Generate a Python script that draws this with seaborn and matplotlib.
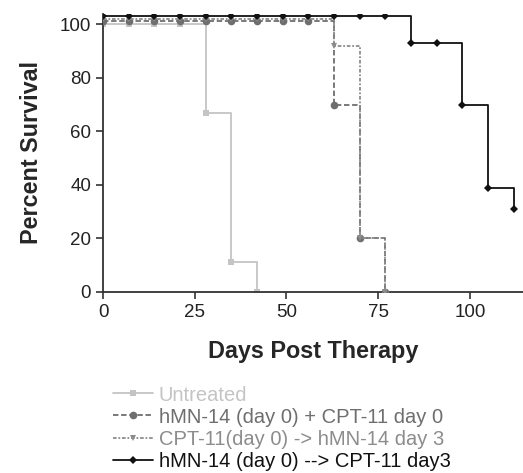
import numpy as np
import pandas as pd
import matplotlib
matplotlib.use("Agg")
import matplotlib.pyplot as plt
import seaborn as sns

# === Data (weekly readings) ===
labels = [
    "Untreated",
    "hMN-14 (day 0) + CPT-11 day 0",
    "CPT-11(day 0) -> hMN-14 day 3",
    "hMN-14 (day 0) --> CPT-11 day3",
]
days_untreated = [0, 7, 14, 21, 28, 35, 42]
surv_untreated = [100, 100, 100, 100, 67, 11, 0]

days_combo = [0, 7, 14, 21, 28, 35, 42, 49, 56, 63, 70, 77]
surv_combo = [100, 100, 100, 100, 100, 100, 100, 100, 100, 70, 20, 0]

days_cpt_first = [0, 7, 14, 21, 28, 35, 42, 49, 56, 63, 70, 77]
surv_cpt_first = [100, 100, 100, 100, 100, 100, 100, 100, 100, 92, 20, 0]

days_hmn_first = [0, 7, 14, 21, 28, 35, 42, 49, 56, 63, 70, 77, 84, 91, 98, 105, 112]
surv_hmn_first = [100, 100, 100, 100, 100, 100, 100, 100, 100, 100, 100, 100, 93, 93, 70, 39, 31]

# Prism-style nudge of the 100% plateau so overlapping curves stay visible
nudges = [0, 1.3, 2, 3]
colors = ["#c4c4c4", "#6e6e6e", "#8c8c8c", "#111111"]
styles = ["-", (0, (3, 1.5)), (0, (2, 1, 1, 1)), "-"]
markers = ["s", "o", "v", "D"]
msizes = [5, 5.5, 5, 4]

series = [
    (days_untreated, surv_untreated),
    (days_combo, surv_combo),
    (days_cpt_first, surv_cpt_first),
    (days_hmn_first, surv_hmn_first),
]

sns.set_style("ticks")
plt.rcParams["font.family"] = ["Liberation Sans", "DejaVu Sans"]

fig = plt.figure(figsize=(5.23, 4.73), dpi=100)
ax = fig.add_axes([0.197, 0.383, 0.803, 0.588])

for i, (d, s) in enumerate(series):
    s = np.array(s, dtype=float)
    df = pd.DataFrame({"day": d, "surv": s + nudges[i] * (s == 100)})
    sns.lineplot(data=df, x="day", y="surv", ax=ax, color=colors[i],
                 linestyle=styles[i], linewidth=1.3, drawstyle="steps-post",
                 marker=markers[i], markersize=msizes[i], markeredgewidth=0,
                 label=labels[i], zorder=2 + i)

ax.set_xlim(0, 114.5)
ax.set_ylim(0, 104)
ax.set_xticks([0, 25, 50, 75, 100])
ax.set_yticks([0, 20, 40, 60, 80, 100])
ax.tick_params(labelsize=13.5, length=5, width=1.2, colors="#333333", labelcolor="#222222")
for sp in ["left", "bottom"]:
    ax.spines[sp].set_linewidth(1.3)
    ax.spines[sp].set_color("#333333")
sns.despine(ax=ax)
ax.set_xlabel("Days Post Therapy", fontsize=16.8, fontweight="bold", labelpad=14)
ax.set_ylabel("Percent Survival", fontsize=16.8, fontweight="bold", labelpad=12)

h, l = ax.get_legend_handles_labels()
ax.get_legend().remove()
fig.legend(h, l, loc="upper left", bbox_to_anchor=(0.2, 0.202), frameon=False,
           fontsize=14.5, labelcolor=colors, handlelength=2.0, handletextpad=0.3,
           labelspacing=0.15, borderaxespad=0)

fig.savefig("out.png", dpi=100)
